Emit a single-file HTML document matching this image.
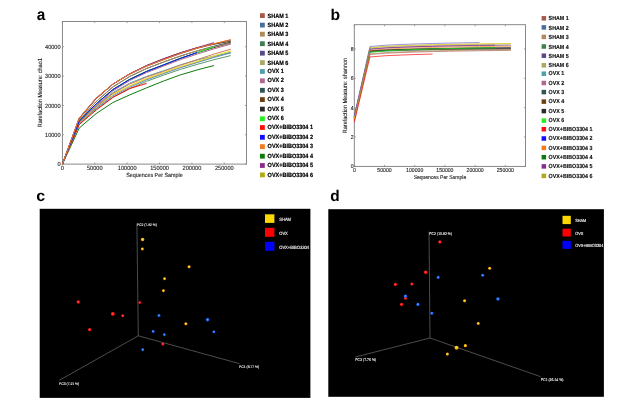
<!DOCTYPE html>
<html><head><meta charset="utf-8"><title>Figure</title>
<style>
html,body{margin:0;padding:0;background:#fff;}
body{width:637px;height:409px;overflow:hidden;}
svg{display:block;font-family:'Liberation Sans', Arial, Helvetica, sans-serif;text-rendering:geometricPrecision;}
</style></head>
<body>
<svg width="637" height="409" viewBox="0 0 637 409">
<defs>
<radialGradient id="gy" cx="0.42" cy="0.4" r="0.6"><stop offset="0" stop-color="#ffe23a"/><stop offset="0.55" stop-color="#ffb81a"/><stop offset="1" stop-color="#e08a00"/></radialGradient>
<radialGradient id="gr" cx="0.42" cy="0.4" r="0.6"><stop offset="0" stop-color="#ff4a4a"/><stop offset="0.6" stop-color="#ff1a1a"/><stop offset="1" stop-color="#d00000"/></radialGradient>
<radialGradient id="gb" cx="0.42" cy="0.4" r="0.6"><stop offset="0" stop-color="#4a9aff"/><stop offset="0.6" stop-color="#2270ff"/><stop offset="1" stop-color="#1050d8"/></radialGradient>
<filter id="bl" x="0" y="0" width="637" height="409" filterUnits="userSpaceOnUse"><feGaussianBlur stdDeviation="0.4"/></filter></defs>
<rect width="637" height="409" fill="#fff"/>
<g filter="url(#bl)">
<text transform="translate(36.70,19.84) scale(0.96,1.02)" font-size="16" font-weight="bold" fill="#000">a</text>
<text transform="translate(330.40,20.20) scale(1.0,1.0)" font-size="15.7" font-weight="bold" fill="#000">b</text>
<text transform="translate(36.20,200.83) scale(1.0,0.97)" font-size="16" font-weight="bold" fill="#000">c</text>
<text transform="translate(330.30,200.75) scale(1.0,1.0)" font-size="15.4" font-weight="bold" fill="#000">d</text>
<rect x="62.4" y="21.5" width="184.1" height="142.6" fill="none" stroke="#7c7c7c" stroke-width="0.9"/>
<line x1="62.40" y1="164.1" x2="62.40" y2="162.5" stroke="#7c7c7c" stroke-width="0.7"/>
<line x1="62.40" y1="21.5" x2="62.40" y2="23.1" stroke="#7c7c7c" stroke-width="0.7"/>
<text transform="translate(62.40,170.00) scale(1.0,1.1)" font-size="5.6" text-anchor="middle" fill="#111" stroke="#111" stroke-width="0.08">0</text>
<line x1="94.78" y1="164.1" x2="94.78" y2="162.5" stroke="#7c7c7c" stroke-width="0.7"/>
<line x1="94.78" y1="21.5" x2="94.78" y2="23.1" stroke="#7c7c7c" stroke-width="0.7"/>
<text transform="translate(94.78,170.00) scale(1.0,1.1)" font-size="5.6" text-anchor="middle" fill="#111" stroke="#111" stroke-width="0.08">50000</text>
<line x1="127.16" y1="164.1" x2="127.16" y2="162.5" stroke="#7c7c7c" stroke-width="0.7"/>
<line x1="127.16" y1="21.5" x2="127.16" y2="23.1" stroke="#7c7c7c" stroke-width="0.7"/>
<text transform="translate(127.16,170.00) scale(1.0,1.1)" font-size="5.6" text-anchor="middle" fill="#111" stroke="#111" stroke-width="0.08">100000</text>
<line x1="159.54" y1="164.1" x2="159.54" y2="162.5" stroke="#7c7c7c" stroke-width="0.7"/>
<line x1="159.54" y1="21.5" x2="159.54" y2="23.1" stroke="#7c7c7c" stroke-width="0.7"/>
<text transform="translate(159.54,170.00) scale(1.0,1.1)" font-size="5.6" text-anchor="middle" fill="#111" stroke="#111" stroke-width="0.08">150000</text>
<line x1="191.92" y1="164.1" x2="191.92" y2="162.5" stroke="#7c7c7c" stroke-width="0.7"/>
<line x1="191.92" y1="21.5" x2="191.92" y2="23.1" stroke="#7c7c7c" stroke-width="0.7"/>
<text transform="translate(191.92,170.00) scale(1.0,1.1)" font-size="5.6" text-anchor="middle" fill="#111" stroke="#111" stroke-width="0.08">200000</text>
<line x1="224.30" y1="164.1" x2="224.30" y2="162.5" stroke="#7c7c7c" stroke-width="0.7"/>
<line x1="224.30" y1="21.5" x2="224.30" y2="23.1" stroke="#7c7c7c" stroke-width="0.7"/>
<text transform="translate(224.30,170.00) scale(1.0,1.1)" font-size="5.6" text-anchor="middle" fill="#111" stroke="#111" stroke-width="0.08">250000</text>
<line x1="62.4" y1="164.10" x2="64.0" y2="164.10" stroke="#7c7c7c" stroke-width="0.7"/>
<line x1="246.5" y1="164.10" x2="244.9" y2="164.10" stroke="#7c7c7c" stroke-width="0.7"/>
<text transform="translate(60.60,166.32) scale(1.0,1.1)" font-size="5.6" text-anchor="end" fill="#111" stroke="#111" stroke-width="0.08">0</text>
<line x1="62.4" y1="134.77" x2="64.0" y2="134.77" stroke="#7c7c7c" stroke-width="0.7"/>
<line x1="246.5" y1="134.77" x2="244.9" y2="134.77" stroke="#7c7c7c" stroke-width="0.7"/>
<text transform="translate(60.60,136.99) scale(1.0,1.1)" font-size="5.6" text-anchor="end" fill="#111" stroke="#111" stroke-width="0.08">10000</text>
<line x1="62.4" y1="105.44" x2="64.0" y2="105.44" stroke="#7c7c7c" stroke-width="0.7"/>
<line x1="246.5" y1="105.44" x2="244.9" y2="105.44" stroke="#7c7c7c" stroke-width="0.7"/>
<text transform="translate(60.60,107.66) scale(1.0,1.1)" font-size="5.6" text-anchor="end" fill="#111" stroke="#111" stroke-width="0.08">20000</text>
<line x1="62.4" y1="76.11" x2="64.0" y2="76.11" stroke="#7c7c7c" stroke-width="0.7"/>
<line x1="246.5" y1="76.11" x2="244.9" y2="76.11" stroke="#7c7c7c" stroke-width="0.7"/>
<text transform="translate(60.60,78.33) scale(1.0,1.1)" font-size="5.6" text-anchor="end" fill="#111" stroke="#111" stroke-width="0.08">30000</text>
<line x1="62.4" y1="46.78" x2="64.0" y2="46.78" stroke="#7c7c7c" stroke-width="0.7"/>
<line x1="246.5" y1="46.78" x2="244.9" y2="46.78" stroke="#7c7c7c" stroke-width="0.7"/>
<text transform="translate(60.60,49.00) scale(1.0,1.1)" font-size="5.6" text-anchor="end" fill="#111" stroke="#111" stroke-width="0.08">40000</text>
<text transform="translate(154.45,177.19) scale(1.0,1.1)" font-size="5.4" text-anchor="middle" fill="#111" stroke="#111" stroke-width="0.08">Sequences Per Sample</text>
<text transform="translate(42.10,92.80) rotate(-90) scale(1.0,1.1)" font-size="5.5" text-anchor="middle" fill="#111" stroke="#111" stroke-width="0.08">Rarefaction Measure: chao1</text>
<g fill="none" stroke-width="1.0" stroke-linejoin="round">
<polyline stroke="#0f7a0f" points="62.41,164.10 79.24,128.02 96.08,113.65 112.91,102.51 129.75,94.88 146.59,87.84 163.43,81.10 180.26,74.94 197.10,69.95 213.94,65.55"/>
<polyline stroke="#aaa862" points="62.41,164.10 79.24,123.04 96.08,106.91 112.91,94.73 129.75,86.08 146.59,78.98 163.43,73.18 180.26,67.20 197.10,62.03 213.94,56.77 230.78,52.06"/>
<polyline stroke="#6a8ec0" points="62.41,164.10 79.24,123.62 96.08,108.08 112.91,95.90 129.75,87.26 146.59,79.83 163.43,73.76 180.26,67.79 197.10,62.62 213.94,57.51 230.78,52.94"/>
<polyline stroke="#5a9a6a" points="62.41,164.10 79.24,124.21 96.08,108.96 112.91,97.12 129.75,88.72 146.59,81.30 163.43,75.23 180.26,69.42 197.10,64.38 213.94,59.73 230.78,55.58"/>
<polyline stroke="#50a0aa" points="62.41,164.10 79.24,122.16 96.08,106.03 112.91,92.64 129.75,83.15 146.59,76.37 163.43,70.83 180.26,65.02 197.10,59.98 213.94,56.11 230.78,52.65"/>
<polyline stroke="#f0e020" points="62.41,164.10 79.24,123.04 96.08,106.61 112.91,94.43 129.75,85.79 146.59,78.53 163.43,72.59 180.26,66.62 197.10,61.44 213.94,55.87 230.78,50.89"/>
<polyline stroke="#cc7a62" points="62.41,164.10 79.24,122.45 96.08,106.61 112.91,93.40 129.75,84.03 146.59,77.09 163.43,71.42 180.26,65.13 197.10,59.69 213.94,54.11 230.78,49.13"/>
<polyline stroke="#ff0a0a" points="62.41,164.10 79.24,124.50 96.08,110.13 112.91,97.44 129.75,88.43 146.59,83.42"/>
<polyline stroke="#2d5555" points="62.41,164.10 79.24,120.16 96.08,101.69 112.91,86.93 129.75,76.46 146.59,68.55 163.43,62.09 180.26,56.12 197.10,50.94 213.94,46.27 230.78,42.09"/>
<polyline stroke="#6b3f10" points="62.41,164.10 79.24,118.40 96.08,98.75 112.91,84.17 129.75,73.82 146.59,65.59 163.43,58.86 180.26,52.89 197.10,47.72 213.94,44.28 230.78,41.21"/>
<polyline stroke="#5a4a88" points="62.41,164.10 79.24,118.11 96.08,98.17 112.91,84.10 129.75,74.12 146.59,66.21 163.43,59.74 180.26,53.61 197.10,48.31 213.94,43.94 230.78,40.03"/>
<polyline stroke="#2a2a2a" points="62.41,164.10 79.24,121.34 96.08,104.03 112.91,89.62 129.75,79.39 146.59,71.49 163.43,65.02 180.26,58.42 197.10,52.70 213.94,47.56 230.78,42.97"/>
<polyline stroke="#b08a5a" points="62.41,164.10 79.24,120.10 96.08,101.63 112.91,86.87 129.75,76.40 146.59,68.49 163.43,62.03 180.26,56.06 197.10,50.89 213.94,46.86 230.78,43.26"/>
<polyline stroke="#b06890" points="62.41,164.10 79.24,121.86 96.08,105.44 112.91,90.86 129.75,80.51 146.59,72.60 163.43,66.14 180.26,59.69 197.10,54.11 213.94,48.85 230.78,44.14"/>
<polyline stroke="#22ee22" points="62.41,164.10 79.24,121.28 96.08,103.97 112.91,89.48 129.75,79.19 146.59,71.28 163.43,64.82 180.26,58.30 197.10,52.65 213.94,46.92"/>
<polyline stroke="#0a0aff" points="62.41,164.10 79.24,121.28 96.08,103.97 112.91,89.56 129.75,79.34 146.59,71.43 163.43,64.96 180.26,58.36 197.10,52.65"/>
<polyline stroke="#8a2a8f" points="62.41,164.10 79.24,118.35 96.08,98.69 112.91,84.11 129.75,73.76 146.59,65.53 163.43,58.81 180.26,52.83 197.10,47.66 213.94,42.67"/>
<polyline stroke="#f57a1a" points="62.41,164.10 79.24,118.05 96.08,98.11 112.91,84.04 129.75,74.06 146.59,66.15 163.43,59.69 180.26,53.56 197.10,48.25 213.94,43.68 230.78,39.59"/>
</g>
<rect x="354.3" y="24.7" width="171.2" height="141.70000000000002" fill="none" stroke="#7c7c7c" stroke-width="0.9"/>
<line x1="354.30" y1="166.4" x2="354.30" y2="164.8" stroke="#7c7c7c" stroke-width="0.7"/>
<line x1="354.30" y1="24.7" x2="354.30" y2="26.3" stroke="#7c7c7c" stroke-width="0.7"/>
<text transform="translate(354.30,172.19) scale(1.0,1.1)" font-size="5.15" text-anchor="middle" fill="#111" stroke="#111" stroke-width="0.08">0</text>
<line x1="384.50" y1="166.4" x2="384.50" y2="164.8" stroke="#7c7c7c" stroke-width="0.7"/>
<line x1="384.50" y1="24.7" x2="384.50" y2="26.3" stroke="#7c7c7c" stroke-width="0.7"/>
<text transform="translate(384.50,172.19) scale(1.0,1.1)" font-size="5.15" text-anchor="middle" fill="#111" stroke="#111" stroke-width="0.08">50000</text>
<line x1="414.70" y1="166.4" x2="414.70" y2="164.8" stroke="#7c7c7c" stroke-width="0.7"/>
<line x1="414.70" y1="24.7" x2="414.70" y2="26.3" stroke="#7c7c7c" stroke-width="0.7"/>
<text transform="translate(414.70,172.19) scale(1.0,1.1)" font-size="5.15" text-anchor="middle" fill="#111" stroke="#111" stroke-width="0.08">100000</text>
<line x1="444.90" y1="166.4" x2="444.90" y2="164.8" stroke="#7c7c7c" stroke-width="0.7"/>
<line x1="444.90" y1="24.7" x2="444.90" y2="26.3" stroke="#7c7c7c" stroke-width="0.7"/>
<text transform="translate(444.90,172.19) scale(1.0,1.1)" font-size="5.15" text-anchor="middle" fill="#111" stroke="#111" stroke-width="0.08">150000</text>
<line x1="475.10" y1="166.4" x2="475.10" y2="164.8" stroke="#7c7c7c" stroke-width="0.7"/>
<line x1="475.10" y1="24.7" x2="475.10" y2="26.3" stroke="#7c7c7c" stroke-width="0.7"/>
<text transform="translate(475.10,172.19) scale(1.0,1.1)" font-size="5.15" text-anchor="middle" fill="#111" stroke="#111" stroke-width="0.08">200000</text>
<line x1="505.30" y1="166.4" x2="505.30" y2="164.8" stroke="#7c7c7c" stroke-width="0.7"/>
<line x1="505.30" y1="24.7" x2="505.30" y2="26.3" stroke="#7c7c7c" stroke-width="0.7"/>
<text transform="translate(505.30,172.19) scale(1.0,1.1)" font-size="5.15" text-anchor="middle" fill="#111" stroke="#111" stroke-width="0.08">250000</text>
<line x1="354.3" y1="166.40" x2="355.90000000000003" y2="166.40" stroke="#7c7c7c" stroke-width="0.7"/>
<line x1="525.5" y1="166.40" x2="523.9" y2="166.40" stroke="#7c7c7c" stroke-width="0.7"/>
<text transform="translate(353.50,168.44) scale(1.0,1.1)" font-size="5.15" text-anchor="end" fill="#111" stroke="#111" stroke-width="0.08">0</text>
<line x1="354.3" y1="137.02" x2="355.90000000000003" y2="137.02" stroke="#7c7c7c" stroke-width="0.7"/>
<line x1="525.5" y1="137.02" x2="523.9" y2="137.02" stroke="#7c7c7c" stroke-width="0.7"/>
<text transform="translate(353.50,139.06) scale(1.0,1.1)" font-size="5.15" text-anchor="end" fill="#111" stroke="#111" stroke-width="0.08">2</text>
<line x1="354.3" y1="107.64" x2="355.90000000000003" y2="107.64" stroke="#7c7c7c" stroke-width="0.7"/>
<line x1="525.5" y1="107.64" x2="523.9" y2="107.64" stroke="#7c7c7c" stroke-width="0.7"/>
<text transform="translate(353.50,109.68) scale(1.0,1.1)" font-size="5.15" text-anchor="end" fill="#111" stroke="#111" stroke-width="0.08">4</text>
<line x1="354.3" y1="78.26" x2="355.90000000000003" y2="78.26" stroke="#7c7c7c" stroke-width="0.7"/>
<line x1="525.5" y1="78.26" x2="523.9" y2="78.26" stroke="#7c7c7c" stroke-width="0.7"/>
<text transform="translate(353.50,80.30) scale(1.0,1.1)" font-size="5.15" text-anchor="end" fill="#111" stroke="#111" stroke-width="0.08">6</text>
<line x1="354.3" y1="48.88" x2="355.90000000000003" y2="48.88" stroke="#7c7c7c" stroke-width="0.7"/>
<line x1="525.5" y1="48.88" x2="523.9" y2="48.88" stroke="#7c7c7c" stroke-width="0.7"/>
<text transform="translate(353.50,50.92) scale(1.0,1.1)" font-size="5.15" text-anchor="end" fill="#111" stroke="#111" stroke-width="0.08">8</text>
<text transform="translate(439.90,179.08) scale(1.0,1.1)" font-size="5.0" text-anchor="middle" fill="#111" stroke="#111" stroke-width="0.08">Sequences Per Sample</text>
<text transform="translate(347.40,95.55) rotate(-90) scale(1.0,1.1)" font-size="5.5" text-anchor="middle" fill="#111" stroke="#111" stroke-width="0.08">Rarefaction Measure: shannon</text>
<g fill="none" stroke-width="0.8" stroke-opacity="0.85" stroke-linejoin="round">
<polyline stroke="#4a6e9e" points="354.31,117.92 369.95,51.08 385.60,50.20 401.26,49.70 416.91,49.32 432.56,49.03 448.21,48.79 463.86,48.59 479.52,48.41 495.17,48.26 510.82,48.15"/>
<polyline stroke="#3f7d52" points="354.31,117.92 369.95,51.82 385.60,50.85 401.26,50.30 416.91,49.88 432.56,49.56 448.21,49.30 463.86,49.07 479.52,48.88 495.17,48.72 510.82,48.59"/>
<polyline stroke="#50a0aa" points="354.31,119.39 369.95,52.11 385.60,51.14 401.26,50.59 416.91,50.17 432.56,49.85 448.21,49.59 463.86,49.36 479.52,49.17 495.17,49.01 510.82,48.88"/>
<polyline stroke="#b06890" points="354.31,119.39 369.95,51.52 385.60,50.60 401.26,50.07 416.91,49.67 432.56,49.36 448.21,49.12 463.86,48.90 479.52,48.72 495.17,48.56 510.82,48.44"/>
<polyline stroke="#6b3f10" points="354.31,119.39 369.95,51.23 385.60,50.53 401.26,50.13 416.91,49.82 432.56,49.59 448.21,49.40 463.86,49.23 479.52,49.09 495.17,48.97 510.82,48.88"/>
<polyline stroke="#0f7a0f" points="354.31,117.92 369.95,51.82 385.60,50.50 401.26,49.75 416.91,49.17 432.56,48.73 448.21,48.38 463.86,48.07 479.52,47.81 495.17,47.59"/>
<polyline stroke="#5a4a88" points="354.31,116.45 369.95,48.88 385.60,47.78 401.26,47.15 416.91,46.68 432.56,46.31 448.21,46.02 463.86,45.76 479.52,45.54 495.17,45.35 510.82,45.21"/>
<polyline stroke="#aaa862" points="354.31,117.92 369.95,48.00 385.60,46.81 401.26,46.13 416.91,45.62 432.56,45.22 448.21,44.90 463.86,44.63 479.52,44.39 495.17,44.19 510.82,44.03"/>
<polyline stroke="#2d5555" points="354.31,117.92 369.95,50.94 385.60,50.01 401.26,49.49 416.91,49.09 432.56,48.78 448.21,48.53 463.86,48.31 479.52,48.13 495.17,47.98 510.82,47.85"/>
<polyline stroke="#2a2a2a" points="354.31,117.92 369.95,50.79 385.60,49.91 401.26,49.41 416.91,49.03 432.56,48.73 448.21,48.50 463.86,48.29 479.52,48.12 495.17,47.97 510.82,47.85"/>
<polyline stroke="#a85a48" points="354.31,120.86 369.95,54.46 385.60,53.23 401.26,52.53 416.91,51.99 432.56,51.58 448.21,51.25 463.86,50.97 479.52,50.72 495.17,50.51 510.82,50.35"/>
<polyline stroke="#b08a5a" points="354.31,119.39 369.95,53.87 385.60,52.60 401.26,51.87 416.91,51.32 432.56,50.89 448.21,50.55 463.86,50.25 479.52,50.00 495.17,49.78 510.82,49.61"/>
<polyline stroke="#22ee22" points="354.31,117.92 369.95,52.26 385.60,50.85 401.26,50.05 416.91,49.44 432.56,48.97 448.21,48.59 463.86,48.26 479.52,47.98 495.17,47.75"/>
<polyline stroke="#f57a1a" points="354.31,119.39 369.95,50.35 385.60,49.12 401.26,48.42 416.91,47.88 432.56,47.47 448.21,47.14 463.86,46.85 479.52,46.61 495.17,46.40 510.82,46.24"/>
<polyline stroke="#8a2a8f" points="354.31,116.45 369.95,49.32 385.60,48.00 401.26,47.25 416.91,46.68 432.56,46.24 448.21,45.88 463.86,45.57 479.52,45.31 495.17,45.09"/>
<polyline stroke="#e0d000" points="354.31,117.92 369.95,47.56 385.60,46.32 401.26,45.62 416.91,45.09 432.56,44.68 448.21,44.35 463.86,44.06 479.52,43.81 495.17,43.61 510.82,43.44"/>
<polyline stroke="#6a62c8" points="354.31,116.45 369.95,46.53 385.60,45.22 401.26,44.48 416.91,43.91 432.56,43.48 448.21,43.13 463.86,42.82 479.52,42.56"/>
<polyline stroke="#ff0a0a" points="354.31,122.33 369.95,56.96 385.60,55.73 401.26,55.03 416.91,54.49 432.56,54.08"/>
</g>
<rect x="260.0" y="13.20" width="4.8" height="4.8" fill="#a85a48"/>
<text transform="translate(267.60,17.78) scale(1.0,1.1)" font-size="5.5" font-weight="bold" fill="#000" stroke="#000" stroke-width="0.18">SHAM 1</text>
<rect x="260.0" y="22.70" width="4.8" height="4.8" fill="#4a6e9e"/>
<text transform="translate(267.60,27.28) scale(1.0,1.1)" font-size="5.5" font-weight="bold" fill="#000" stroke="#000" stroke-width="0.18">SHAM 2</text>
<rect x="260.0" y="31.80" width="4.8" height="4.8" fill="#b08a5a"/>
<text transform="translate(267.60,36.38) scale(1.0,1.1)" font-size="5.5" font-weight="bold" fill="#000" stroke="#000" stroke-width="0.18">SHAM 3</text>
<rect x="260.0" y="41.30" width="4.8" height="4.8" fill="#3f7d52"/>
<text transform="translate(267.60,45.88) scale(1.0,1.1)" font-size="5.5" font-weight="bold" fill="#000" stroke="#000" stroke-width="0.18">SHAM 4</text>
<rect x="260.0" y="50.80" width="4.8" height="4.8" fill="#5a4a88"/>
<text transform="translate(267.60,55.38) scale(1.0,1.1)" font-size="5.5" font-weight="bold" fill="#000" stroke="#000" stroke-width="0.18">SHAM 5</text>
<rect x="260.0" y="60.20" width="4.8" height="4.8" fill="#aaa862"/>
<text transform="translate(267.60,64.78) scale(1.0,1.1)" font-size="5.5" font-weight="bold" fill="#000" stroke="#000" stroke-width="0.18">SHAM 6</text>
<rect x="260.0" y="69.10" width="4.8" height="4.8" fill="#50a0aa"/>
<text transform="translate(267.60,73.18) scale(1.0,1.1)" font-size="5.5" font-weight="bold" fill="#000" stroke="#000" stroke-width="0.18">OVX 1</text>
<rect x="260.0" y="78.40" width="4.8" height="4.8" fill="#b06890"/>
<text transform="translate(267.60,82.48) scale(1.0,1.1)" font-size="5.5" font-weight="bold" fill="#000" stroke="#000" stroke-width="0.18">OVX 2</text>
<rect x="260.0" y="87.90" width="4.8" height="4.8" fill="#2d5555"/>
<text transform="translate(267.60,91.98) scale(1.0,1.1)" font-size="5.5" font-weight="bold" fill="#000" stroke="#000" stroke-width="0.18">OVX 3</text>
<rect x="260.0" y="97.20" width="4.8" height="4.8" fill="#6b3f10"/>
<text transform="translate(267.60,101.28) scale(1.0,1.1)" font-size="5.5" font-weight="bold" fill="#000" stroke="#000" stroke-width="0.18">OVX 4</text>
<rect x="260.0" y="106.70" width="4.8" height="4.8" fill="#2a2a2a"/>
<text transform="translate(267.60,110.78) scale(1.0,1.1)" font-size="5.5" font-weight="bold" fill="#000" stroke="#000" stroke-width="0.18">OVX 5</text>
<rect x="260.0" y="116.40" width="4.8" height="4.8" fill="#22ee22"/>
<text transform="translate(267.60,120.48) scale(1.0,1.1)" font-size="5.5" font-weight="bold" fill="#000" stroke="#000" stroke-width="0.18">OVX 6</text>
<rect x="260.0" y="125.10" width="4.8" height="4.8" fill="#ff0a0a"/>
<text transform="translate(267.60,129.18) scale(1.0,1.1)" font-size="5.5" font-weight="bold" fill="#000" stroke="#000" stroke-width="0.18">OVX+BIBO3304 1</text>
<rect x="260.0" y="134.90" width="4.8" height="4.8" fill="#0a0aff"/>
<text transform="translate(267.60,138.98) scale(1.0,1.1)" font-size="5.5" font-weight="bold" fill="#000" stroke="#000" stroke-width="0.18">OVX+BIBO3304 2</text>
<rect x="260.0" y="144.20" width="4.8" height="4.8" fill="#f57a1a"/>
<text transform="translate(267.60,148.28) scale(1.0,1.1)" font-size="5.5" font-weight="bold" fill="#000" stroke="#000" stroke-width="0.18">OVX+BIBO3304 3</text>
<rect x="260.0" y="153.80" width="4.8" height="4.8" fill="#0f7a0f"/>
<text transform="translate(267.60,157.88) scale(1.0,1.1)" font-size="5.5" font-weight="bold" fill="#000" stroke="#000" stroke-width="0.18">OVX+BIBO3304 4</text>
<rect x="260.0" y="163.10" width="4.8" height="4.8" fill="#8a2a8f"/>
<text transform="translate(267.60,167.18) scale(1.0,1.1)" font-size="5.5" font-weight="bold" fill="#000" stroke="#000" stroke-width="0.18">OVX+BIBO3304 5</text>
<rect x="260.0" y="172.50" width="4.8" height="4.8" fill="#b0a815"/>
<text transform="translate(267.60,176.58) scale(1.0,1.1)" font-size="5.5" font-weight="bold" fill="#000" stroke="#000" stroke-width="0.18">OVX+BIBO3304 6</text>
<rect x="541.6" y="16.05" width="4.5" height="4.5" fill="#a85a48"/>
<text transform="translate(548.60,20.41) scale(1.0,1.1)" font-size="5.32" font-weight="bold" fill="#111" stroke="#111" stroke-width="0.12">SHAM 1</text>
<rect x="541.6" y="25.15" width="4.5" height="4.5" fill="#4a6e9e"/>
<text transform="translate(548.60,29.51) scale(1.0,1.1)" font-size="5.32" font-weight="bold" fill="#111" stroke="#111" stroke-width="0.12">SHAM 2</text>
<rect x="541.6" y="34.65" width="4.5" height="4.5" fill="#b08a5a"/>
<text transform="translate(548.60,39.01) scale(1.0,1.1)" font-size="5.32" font-weight="bold" fill="#111" stroke="#111" stroke-width="0.12">SHAM 3</text>
<rect x="541.6" y="44.25" width="4.5" height="4.5" fill="#3f7d52"/>
<text transform="translate(548.60,48.61) scale(1.0,1.1)" font-size="5.32" font-weight="bold" fill="#111" stroke="#111" stroke-width="0.12">SHAM 4</text>
<rect x="541.6" y="53.45" width="4.5" height="4.5" fill="#5a4a88"/>
<text transform="translate(548.60,57.81) scale(1.0,1.1)" font-size="5.32" font-weight="bold" fill="#111" stroke="#111" stroke-width="0.12">SHAM 5</text>
<rect x="541.6" y="63.05" width="4.5" height="4.5" fill="#aaa862"/>
<text transform="translate(548.60,67.41) scale(1.0,1.1)" font-size="5.32" font-weight="bold" fill="#111" stroke="#111" stroke-width="0.12">SHAM 6</text>
<rect x="541.6" y="71.45" width="4.5" height="4.5" fill="#50a0aa"/>
<text transform="translate(548.60,75.31) scale(1.0,1.1)" font-size="5.32" font-weight="bold" fill="#111" stroke="#111" stroke-width="0.12">OVX 1</text>
<rect x="541.6" y="80.75" width="4.5" height="4.5" fill="#b06890"/>
<text transform="translate(548.60,84.61) scale(1.0,1.1)" font-size="5.32" font-weight="bold" fill="#111" stroke="#111" stroke-width="0.12">OVX 2</text>
<rect x="541.6" y="89.85" width="4.5" height="4.5" fill="#2d5555"/>
<text transform="translate(548.60,93.71) scale(1.0,1.1)" font-size="5.32" font-weight="bold" fill="#111" stroke="#111" stroke-width="0.12">OVX 3</text>
<rect x="541.6" y="99.35" width="4.5" height="4.5" fill="#6b3f10"/>
<text transform="translate(548.60,103.21) scale(1.0,1.1)" font-size="5.32" font-weight="bold" fill="#111" stroke="#111" stroke-width="0.12">OVX 4</text>
<rect x="541.6" y="108.85" width="4.5" height="4.5" fill="#2a2a2a"/>
<text transform="translate(548.60,112.71) scale(1.0,1.1)" font-size="5.32" font-weight="bold" fill="#111" stroke="#111" stroke-width="0.12">OVX 5</text>
<rect x="541.6" y="118.35" width="4.5" height="4.5" fill="#22ee22"/>
<text transform="translate(548.60,122.21) scale(1.0,1.1)" font-size="5.32" font-weight="bold" fill="#111" stroke="#111" stroke-width="0.12">OVX 6</text>
<rect x="541.6" y="126.95" width="4.5" height="4.5" fill="#ff0a0a"/>
<text transform="translate(548.60,130.81) scale(1.0,1.1)" font-size="5.32" font-weight="bold" fill="#111" stroke="#111" stroke-width="0.12">OVX+BIBO3304 1</text>
<rect x="541.6" y="136.25" width="4.5" height="4.5" fill="#0a0aff"/>
<text transform="translate(548.60,140.11) scale(1.0,1.1)" font-size="5.32" font-weight="bold" fill="#111" stroke="#111" stroke-width="0.12">OVX+BIBO3304 2</text>
<rect x="541.6" y="145.65" width="4.5" height="4.5" fill="#f57a1a"/>
<text transform="translate(548.60,149.51) scale(1.0,1.1)" font-size="5.32" font-weight="bold" fill="#111" stroke="#111" stroke-width="0.12">OVX+BIBO3304 3</text>
<rect x="541.6" y="154.95" width="4.5" height="4.5" fill="#0f7a0f"/>
<text transform="translate(548.60,158.81) scale(1.0,1.1)" font-size="5.32" font-weight="bold" fill="#111" stroke="#111" stroke-width="0.12">OVX+BIBO3304 4</text>
<rect x="541.6" y="164.15" width="4.5" height="4.5" fill="#8a2a8f"/>
<text transform="translate(548.60,168.01) scale(1.0,1.1)" font-size="5.32" font-weight="bold" fill="#111" stroke="#111" stroke-width="0.12">OVX+BIBO3304 5</text>
<rect x="541.6" y="173.65" width="4.5" height="4.5" fill="#b0a815"/>
<text transform="translate(548.60,177.51) scale(1.0,1.1)" font-size="5.32" font-weight="bold" fill="#111" stroke="#111" stroke-width="0.12">OVX+BIBO3304 6</text>
<rect x="39.7" y="208.8" width="270.7" height="189.09999999999997" fill="#000"/>
<line x1="138.3" y1="335.8" x2="136.9" y2="223.4" stroke="#808080" stroke-width="0.6"/>
<line x1="138.3" y1="335.8" x2="59.5" y2="380.2" stroke="#808080" stroke-width="0.6"/>
<line x1="138.3" y1="335.8" x2="239.3" y2="363.6" stroke="#808080" stroke-width="0.6"/>
<text transform="translate(136.80,225.93) scale(1.0,1.1)" font-size="3.35" fill="#fff" stroke="#fff" stroke-width="0.08">PC2 (7.92 %)</text>
<text transform="translate(59.10,384.93) scale(1.0,1.1)" font-size="3.35" fill="#fff" stroke="#fff" stroke-width="0.08">PC3 (7.21 %)</text>
<text transform="translate(239.10,368.23) scale(1.0,1.1)" font-size="3.35" fill="#fff" stroke="#fff" stroke-width="0.08">PC1 (8.77 %)</text>
<circle cx="142.6" cy="239.5" r="1.75" fill="url(#gy)"/>
<circle cx="142.4" cy="249.0" r="1.45" fill="url(#gy)"/>
<circle cx="164.6" cy="278.7" r="1.45" fill="url(#gy)"/>
<circle cx="163.4" cy="290.7" r="1.45" fill="url(#gy)"/>
<circle cx="189.1" cy="266.8" r="1.55" fill="url(#gy)"/>
<circle cx="185.9" cy="323.7" r="1.55" fill="url(#gy)"/>
<circle cx="78.3" cy="302.1" r="1.75" fill="url(#gr)"/>
<circle cx="112.9" cy="313.9" r="2.00" fill="url(#gr)"/>
<circle cx="122.8" cy="315.8" r="1.55" fill="url(#gr)"/>
<circle cx="89.7" cy="329.7" r="1.65" fill="url(#gr)"/>
<circle cx="139.8" cy="302.6" r="1.45" fill="url(#gr)"/>
<circle cx="162.9" cy="344.1" r="1.55" fill="url(#gr)"/>
<circle cx="159.0" cy="315.5" r="1.55" fill="url(#gb)"/>
<circle cx="153.2" cy="331.5" r="1.45" fill="url(#gb)"/>
<circle cx="164.4" cy="334.7" r="1.45" fill="url(#gb)"/>
<circle cx="142.8" cy="349.7" r="1.45" fill="url(#gb)"/>
<circle cx="207.6" cy="319.7" r="1.75" fill="url(#gb)"/>
<circle cx="213.9" cy="331.9" r="1.45" fill="url(#gb)"/>
<rect x="265.0" y="214.3" width="9.4" height="8.60" fill="#ffd700"/>
<text transform="translate(279.20,221.20) scale(1.0,1.15)" font-size="4.1" fill="#fff" stroke="#fff" stroke-width="0.1">SHAM</text>
<rect x="265.0" y="227.8" width="9.4" height="9.00" fill="#ff0000"/>
<text transform="translate(279.20,234.90) scale(1.0,1.15)" font-size="4.1" fill="#fff" stroke="#fff" stroke-width="0.1">OVX</text>
<rect x="265.0" y="241.8" width="9.4" height="9.00" fill="#0000ff"/>
<text transform="translate(279.20,248.90) scale(1.0,1.15)" font-size="4.1" fill="#fff" stroke="#fff" stroke-width="0.1">OVX+BIBO3304</text>
<rect x="328.3" y="209.2" width="275.59999999999997" height="187.60000000000002" fill="#000"/>
<line x1="430.0" y1="338.0" x2="429.0" y2="231.6" stroke="#808080" stroke-width="0.6"/>
<line x1="430.0" y1="338.0" x2="355.3" y2="357.0" stroke="#808080" stroke-width="0.6"/>
<line x1="430.0" y1="338.0" x2="540.7" y2="376.7" stroke="#808080" stroke-width="0.6"/>
<text transform="translate(429.30,235.48) scale(1.0,1.1)" font-size="3.48" fill="#fff" stroke="#fff" stroke-width="0.08">PC2 (10.82 %)</text>
<text transform="translate(355.30,360.88) scale(1.0,1.1)" font-size="3.48" fill="#fff" stroke="#fff" stroke-width="0.08">PC3 (7.76 %)</text>
<text transform="translate(540.70,381.38) scale(1.0,1.1)" font-size="3.48" fill="#fff" stroke="#fff" stroke-width="0.08">PC1 (26.14 %)</text>
<circle cx="489.7" cy="268.3" r="1.55" fill="url(#gy)"/>
<circle cx="464.6" cy="300.8" r="1.55" fill="url(#gy)"/>
<circle cx="478.3" cy="323.5" r="1.45" fill="url(#gy)"/>
<circle cx="456.6" cy="347.8" r="2.05" fill="url(#gy)"/>
<circle cx="465.4" cy="345.7" r="1.65" fill="url(#gy)"/>
<circle cx="447.4" cy="354.1" r="1.55" fill="url(#gy)"/>
<circle cx="439.9" cy="242.0" r="1.65" fill="url(#gr)"/>
<circle cx="425.8" cy="272.3" r="1.85" fill="url(#gr)"/>
<circle cx="395.4" cy="284.5" r="1.65" fill="url(#gr)"/>
<circle cx="411.9" cy="284.1" r="1.55" fill="url(#gr)"/>
<circle cx="405.5" cy="298.3" r="1.55" fill="url(#gr)"/>
<circle cx="401.6" cy="304.5" r="1.65" fill="url(#gr)"/>
<circle cx="438.2" cy="277.4" r="1.55" fill="url(#gb)"/>
<circle cx="405.5" cy="296.2" r="1.65" fill="url(#gb)"/>
<circle cx="418.0" cy="304.5" r="1.65" fill="url(#gb)"/>
<circle cx="431.9" cy="313.3" r="1.55" fill="url(#gb)"/>
<circle cx="482.7" cy="275.3" r="1.55" fill="url(#gb)"/>
<circle cx="498.0" cy="299.1" r="1.75" fill="url(#gb)"/>
<rect x="562.5" y="215.8" width="8.3" height="8.30" fill="#ffd700"/>
<text transform="translate(575.20,222.44) scale(1.0,1.15)" font-size="3.85" fill="#fff" stroke="#fff" stroke-width="0.1">SHAM</text>
<rect x="562.5" y="228.7" width="8.3" height="7.80" fill="#ff0000"/>
<text transform="translate(575.20,235.09) scale(1.0,1.15)" font-size="3.85" fill="#fff" stroke="#fff" stroke-width="0.1">OVX</text>
<rect x="562.5" y="240.9" width="8.3" height="8.00" fill="#0000ff"/>
<text transform="translate(575.20,247.39) scale(1.0,1.15)" font-size="3.85" fill="#fff" stroke="#fff" stroke-width="0.1">OVX+BIBO3304</text>
</g>
</svg>
</body></html>
